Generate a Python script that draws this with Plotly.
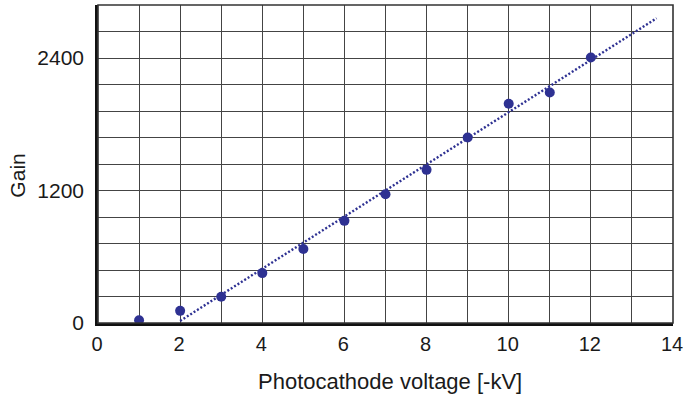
import plotly.graph_objects as go

# Data
voltage = [1, 2, 3, 4, 5, 6, 7, 8, 9, 10, 11, 12]
gain = [25, 110, 238, 452, 670, 925, 1166, 1387, 1680, 1985, 2087, 2404]

fit_x = [2.0, 13.6]
fit_y = [19, 2760]

x_ticks = [0, 2, 4, 6, 8, 10, 12, 14]
y_ticks = [0, 1200, 2400]

blue = "#2e3192"
font = "Liberation Sans, Arial, sans-serif"

fig = go.Figure()
fig.add_trace(go.Scatter(
    x=fit_x, y=fit_y, mode="lines",
    line=dict(color=blue, width=2.4, dash="2px,2px"),
    hoverinfo="skip", showlegend=False, cliponaxis=False,
))
fig.add_trace(go.Scatter(
    x=voltage, y=gain, mode="markers",
    marker=dict(color=blue, size=10),
    showlegend=False, cliponaxis=False,
))

fig.update_layout(
    width=683, height=401,
    margin=dict(l=98, r=9.5, t=4.7, b=77.7, autoexpand=False),
    paper_bgcolor="white", plot_bgcolor="white",
    font=dict(family=font, size=21, color="#1a1a1a"),
)
fig.update_xaxes(
    range=[0, 14], automargin=False,
    tickvals=x_ticks, ticktext=[str(v) for v in x_ticks],
    showgrid=True, gridcolor="#444444", gridwidth=1.2,
    minor=dict(dtick=1, tick0=0, showgrid=True, gridcolor="#444444", gridwidth=1.2),
    zeroline=False, showline=True, linecolor="#111111", linewidth=2.6,
    ticks="", ticklabelstandoff=1, ticklabeloverflow="allow", ticklabelshift=-1,
    tickfont=dict(size=20),
)
fig.update_yaxes(
    range=[0, 2880], automargin=False,
    tickvals=y_ticks, ticktext=[str(v) for v in y_ticks],
    showgrid=True, gridcolor="#444444", gridwidth=1.2,
    minor=dict(dtick=240, tick0=0, showgrid=True, gridcolor="#444444", gridwidth=1.2),
    zeroline=False, showline=True, linecolor="#111111", linewidth=2.6,
    ticks="", ticklabelstandoff=7, ticklabeloverflow="allow",
)
fig.add_shape(type="rect", xref="paper", yref="paper", x0=0, y0=0, x1=1, y1=1,
              line=dict(color="#333333", width=1.6), layer="above")

fig.add_annotation(text="Photocathode voltage [-kV]", xref="paper", yref="paper",
                   x=0.508, y=-0.185, yanchor="middle", xanchor="center", showarrow=False,
                   font=dict(family=font, size=22, color="#1a1a1a"))
fig.add_annotation(text="Gain", xref="paper", yref="paper", textangle=-90,
                   x=-0.14, xanchor="center", y=0.465, yanchor="middle", showarrow=False,
                   font=dict(family=font, size=21, color="#1a1a1a"))

fig.write_html("out.html", config={"displayModeBar": False},
               post_script="document.body.style.margin='0';document.body.style.overflow='hidden';")
